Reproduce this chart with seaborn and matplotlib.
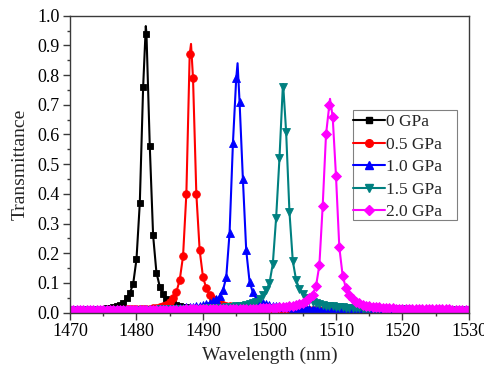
import numpy as np
import pandas as pd
import matplotlib
matplotlib.use("Agg")
import matplotlib.pyplot as plt
import seaborn as sns
from matplotlib.lines import Line2D
from matplotlib.patches import Rectangle
from matplotlib.ticker import MultipleLocator, FormatStrFormatter

# sampling grid (nm): 1470 ... 1530 every 0.5 nm
wavelength = np.arange(1470.0, 1530.0 + 0.25, 0.5)

t_0gpa = [
    0.009, 0.009, 0.010, 0.010, 0.011, 0.011, 0.012, 0.012, 0.013, 0.014,
    0.014, 0.015, 0.017, 0.019, 0.022, 0.027, 0.034, 0.048, 0.066, 0.097,
    0.180, 0.370, 0.760, 0.940, 0.560, 0.260, 0.135, 0.088, 0.062, 0.047,
    0.037, 0.031, 0.026, 0.023, 0.020, 0.018, 0.017, 0.016, 0.015, 0.014,
    0.013, 0.013, 0.012, 0.012, 0.012, 0.011, 0.011, 0.011, 0.011, 0.010,
    0.010, 0.010, 0.010, 0.010, 0.010, 0.010, 0.010, 0.010, 0.010, 0.010,
    0.010, 0.010, 0.010, 0.010, 0.010, 0.009, 0.009, 0.009, 0.009, 0.009,
    0.009, 0.009, 0.009, 0.009, 0.009, 0.009, 0.009, 0.009, 0.009, 0.009,
    0.009, 0.009, 0.009, 0.009, 0.009, 0.009, 0.009, 0.009, 0.009, 0.009,
    0.009, 0.009, 0.009, 0.009, 0.009, 0.008, 0.008, 0.008, 0.008, 0.008,
    0.008, 0.008, 0.008, 0.008, 0.008, 0.008, 0.008, 0.008, 0.008, 0.008,
    0.008, 0.008, 0.008, 0.008, 0.008, 0.008, 0.008, 0.008, 0.008, 0.008,
    0.008,
]
t_05gpa = [
    0.008, 0.008, 0.008, 0.008, 0.008, 0.009, 0.009, 0.009, 0.009, 0.009,
    0.009, 0.009, 0.010, 0.010, 0.010, 0.010, 0.010, 0.011, 0.011, 0.011,
    0.011, 0.012, 0.012, 0.013, 0.014, 0.015, 0.017, 0.019, 0.022, 0.027,
    0.035, 0.048, 0.070, 0.110, 0.190, 0.400, 0.870, 0.790, 0.400, 0.210,
    0.120, 0.082, 0.060, 0.046, 0.037, 0.031, 0.027, 0.024, 0.022, 0.020,
    0.018, 0.017, 0.016, 0.015, 0.015, 0.014, 0.014, 0.013, 0.013, 0.013,
    0.012, 0.012, 0.012, 0.012, 0.011, 0.011, 0.011, 0.011, 0.011, 0.010,
    0.010, 0.010, 0.010, 0.010, 0.010, 0.010, 0.010, 0.010, 0.010, 0.009,
    0.009, 0.009, 0.009, 0.009, 0.009, 0.009, 0.009, 0.009, 0.009, 0.009,
    0.009, 0.009, 0.009, 0.009, 0.009, 0.008, 0.008, 0.008, 0.008, 0.008,
    0.008, 0.008, 0.008, 0.008, 0.008, 0.008, 0.008, 0.008, 0.008, 0.008,
    0.008, 0.008, 0.008, 0.008, 0.008, 0.008, 0.008, 0.008, 0.008, 0.008,
    0.008,
]
t_10gpa = [
    0.008, 0.008, 0.008, 0.008, 0.008, 0.008, 0.008, 0.008, 0.009, 0.009,
    0.009, 0.009, 0.009, 0.009, 0.009, 0.010, 0.010, 0.010, 0.010, 0.010,
    0.010, 0.011, 0.011, 0.011, 0.011, 0.012, 0.012, 0.012, 0.013, 0.013,
    0.014, 0.014, 0.015, 0.016, 0.017, 0.018, 0.019, 0.020, 0.022, 0.024,
    0.026, 0.029, 0.033, 0.038, 0.045, 0.055, 0.075, 0.120, 0.270, 0.570,
    0.790, 0.710, 0.450, 0.210, 0.105, 0.068, 0.050, 0.040, 0.034, 0.029,
    0.026, 0.024, 0.022, 0.021, 0.020, 0.019, 0.018, 0.017, 0.016, 0.016,
    0.015, 0.015, 0.014, 0.014, 0.013, 0.013, 0.013, 0.012, 0.012, 0.012,
    0.012, 0.011, 0.011, 0.011, 0.011, 0.011, 0.010, 0.010, 0.010, 0.010,
    0.010, 0.010, 0.010, 0.010, 0.009, 0.009, 0.009, 0.009, 0.009, 0.009,
    0.009, 0.009, 0.009, 0.009, 0.009, 0.008, 0.008, 0.008, 0.008, 0.008,
    0.008, 0.008, 0.008, 0.008, 0.008, 0.008, 0.008, 0.008, 0.008, 0.008,
    0.008,
]
t_15gpa = [
    0.008, 0.008, 0.008, 0.008, 0.008, 0.008, 0.008, 0.008, 0.008, 0.008,
    0.008, 0.008, 0.008, 0.008, 0.009, 0.009, 0.009, 0.009, 0.009, 0.009,
    0.009, 0.009, 0.010, 0.010, 0.010, 0.010, 0.010, 0.011, 0.011, 0.011,
    0.011, 0.012, 0.012, 0.012, 0.012, 0.013, 0.013, 0.013, 0.014, 0.014,
    0.014, 0.015, 0.015, 0.016, 0.016, 0.017, 0.017, 0.018, 0.019, 0.020,
    0.021, 0.022, 0.024, 0.026, 0.029, 0.032, 0.036, 0.045, 0.058, 0.075,
    0.100, 0.165, 0.320, 0.520, 0.760, 0.610, 0.340, 0.175, 0.110, 0.080,
    0.062, 0.050, 0.042, 0.036, 0.032, 0.029, 0.026, 0.024, 0.022, 0.021,
    0.020, 0.019, 0.018, 0.017, 0.016, 0.016, 0.015, 0.015, 0.014, 0.014,
    0.013, 0.013, 0.013, 0.012, 0.012, 0.012, 0.012, 0.011, 0.011, 0.011,
    0.011, 0.011, 0.010, 0.010, 0.010, 0.010, 0.010, 0.010, 0.009, 0.009,
    0.009, 0.009, 0.009, 0.009, 0.009, 0.009, 0.009, 0.009, 0.009, 0.009,
    0.009,
]
t_20gpa = [
    0.009, 0.009, 0.009, 0.009, 0.009, 0.009, 0.009, 0.009, 0.009, 0.009,
    0.009, 0.009, 0.009, 0.009, 0.009, 0.009, 0.009, 0.009, 0.009, 0.009,
    0.009, 0.009, 0.009, 0.009, 0.009, 0.010, 0.010, 0.010, 0.010, 0.010,
    0.010, 0.010, 0.010, 0.010, 0.010, 0.011, 0.011, 0.011, 0.011, 0.011,
    0.011, 0.011, 0.011, 0.012, 0.012, 0.012, 0.012, 0.012, 0.013, 0.013,
    0.013, 0.013, 0.013, 0.014, 0.014, 0.014, 0.014, 0.015, 0.015, 0.015,
    0.016, 0.016, 0.017, 0.018, 0.019, 0.020, 0.022, 0.024, 0.026, 0.029,
    0.034, 0.040, 0.048, 0.060, 0.090, 0.160, 0.360, 0.600, 0.700, 0.660,
    0.460, 0.220, 0.125, 0.082, 0.060, 0.046, 0.037, 0.031, 0.027, 0.024,
    0.022, 0.020, 0.019, 0.018, 0.017, 0.016, 0.015, 0.015, 0.014, 0.014,
    0.013, 0.013, 0.013, 0.013, 0.012, 0.012, 0.012, 0.012, 0.012, 0.012,
    0.011, 0.011, 0.011, 0.011, 0.011, 0.010, 0.010, 0.010, 0.010, 0.010,
    0.010,
]

# unmarked apex of each resonance (line only)
peak_wl = [1481.4, 1488.2, 1495.2, 1502.05, 1509.1]
peak_tip = [0.965, 0.905, 0.840, 0.770, 0.720]

labels = ["0 GPa", "0.5 GPa", "1.0 GPa", "1.5 GPa", "2.0 GPa"]
colors = ["#000000", "#ff0000", "#0000ff", "#008080", "#ff00ff"]
markers = ["s", "o", "^", "v", "D"]
msizes = [5.0, 5.5, 5.8, 5.8, 4.6]
series = [t_0gpa, t_05gpa, t_10gpa, t_15gpa, t_20gpa]

sns.set_style("ticks")
plt.rcParams["font.family"] = ["Liberation Serif", "DejaVu Serif"]

fig = plt.figure(figsize=(4.85, 3.65), dpi=100)
ax = fig.add_axes([0.1443, 0.1433, 0.8227, 0.8137])

handles = []
for vals, tx, ty, lab, c, m, ms in zip(series, peak_wl, peak_tip, labels, colors, markers, msizes):
    df = pd.DataFrame({"wl": wavelength, "T": vals, "marked": True})
    tip = pd.DataFrame({"wl": [tx], "T": [ty], "marked": [False]})
    df = pd.concat([df, tip]).sort_values("wl").reset_index(drop=True)
    mark_idx = list(np.flatnonzero(df["marked"].to_numpy()))
    sns.lineplot(data=df, x="wl", y="T", ax=ax, color=c, lw=1.5, sort=False,
                 estimator=None, marker=m, markersize=ms, markevery=mark_idx,
                 markeredgecolor=c, markerfacecolor=c, markeredgewidth=0.6)
    handles.append(Line2D([], [], color=c, lw=1.5, marker=m, markersize=ms,
                          markeredgecolor=c, markerfacecolor=c, label=lab))

ax.set_xlim(1470, 1530)
ax.set_ylim(0.0, 1.0)
ax.xaxis.set_major_locator(MultipleLocator(10))
ax.xaxis.set_minor_locator(MultipleLocator(5))
ax.yaxis.set_major_locator(MultipleLocator(0.1))
ax.yaxis.set_minor_locator(MultipleLocator(0.05))
ax.yaxis.set_major_formatter(FormatStrFormatter("%.1f"))

spine_col = "#3a3a3a"
for s in ax.spines.values():
    s.set_color(spine_col)
    s.set_linewidth(1.0)
ax.tick_params(which="both", direction="out", colors=spine_col, labelcolor="black",
               top=False, right=False, labelsize=13)
ax.tick_params(which="major", length=5, width=1.0, pad=2.5)
ax.tick_params(which="minor", length=2.5, width=1.0)

ax.set_xlabel("Wavelength (nm)", fontsize=14, labelpad=5)
ax.set_ylabel("Transmittance", fontsize=14, labelpad=6)

ax.add_patch(Rectangle((0.709, 0.312), 0.261, 0.3705, transform=ax.transAxes,
                       facecolor="white", edgecolor="#808080", lw=0.8, zorder=4))
leg = ax.legend(handles=handles, loc="upper left", bbox_to_anchor=(0.709, 0.668),
                borderaxespad=0, borderpad=0, frameon=False, handlelength=1.85,
                handletextpad=0.05, labelspacing=0.36, fontsize=12.5)
leg.set_zorder(5)

fig.savefig("out.png", dpi=100)
